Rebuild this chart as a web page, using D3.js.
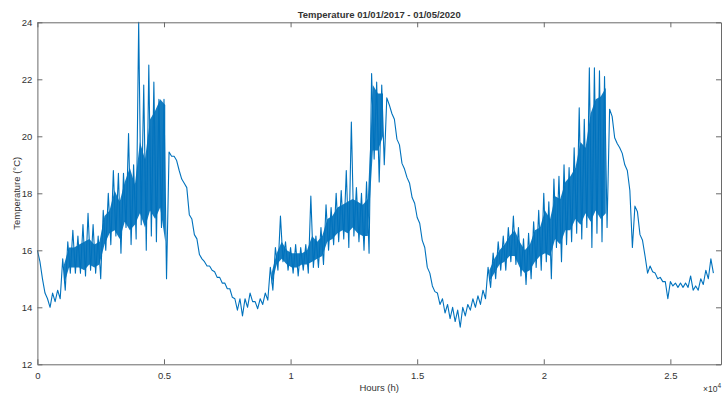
<!DOCTYPE html>
<html>
<head>
<meta charset="utf-8">
<script src="https://cdn.jsdelivr.net/npm/d3@7"></script>
<style>
  body { margin: 0; background: #fff; }
  text { font-family: "Liberation Sans", Arial, sans-serif; fill: #333; }
  .title { font-weight: bold; }
</style>
</head>
<body>
<svg id="chart" width="723" height="394"></svg>
<script>
var sampleStep = 200; // hours between samples
var tempLow = [
  15.6, 14.5, 14.0, 14.2, 14.3, 14.6, 15.2, 15.2, 15.2, 15.1,
  15.3, 15.2, 15.0, 16.0, 16.2, 16.5, 15.9, 16.8, 16.2, 16.4,
  16.9, 16.0, 16.5, 16.3, 16.8, 15.0, 19.3, 19.15, 18.5, 18.2,
  17.1, 16.4, 15.7, 15.45, 15.3, 15.05, 14.85, 14.65, 14.35, 13.9,
  13.7, 14.0, 14.2, 13.95, 14.1, 14.25, 14.6, 15.3, 15.6, 15.3,
  15.2, 15.1, 15.3, 15.2, 15.4, 15.4, 15.5, 16.0, 16.2, 16.3,
  16.4, 16.1, 16.5, 16.3, 16.0, 15.9, 19.2, 18.4, 19.0, 21.1,
  20.6, 19.7, 18.85, 18.35, 17.65, 16.95, 16.1, 15.2, 14.55, 14.1,
  13.8, 13.6, 13.5, 13.3, 13.7, 13.9, 14.0, 14.1, 14.3, 14.7,
  15.0, 15.3, 15.3, 15.6, 15.5, 15.1, 14.8, 15.0, 15.4, 15.3,
  15.6, 15.0, 16.1, 15.6, 16.2, 16.3, 16.6, 16.4, 16.8, 16.1,
  16.6, 16.3, 16.8, 20.7, 19.75, 19.4, 18.8, 16.1, 17.35, 16.35,
  15.2, 15.25, 15.0, 14.9, 14.3, 14.75, 14.7, 14.7, 14.7, 14.6,
  14.6, 14.8, 15.0, 15.2
];
var tempHigh = [
  16.0, 15.0, 14.3, 14.5, 14.6, 15.7, 16.3, 16.7, 16.5, 16.9,
  17.3, 16.9, 16.5, 17.4, 18.0, 18.8, 18.7, 18.7, 20.1, 19.0,
  24.0, 21.8, 22.5, 21.9, 21.3, 21.3, 19.45, 19.3, 18.8, 18.35,
  17.25, 16.55, 15.85, 15.6, 15.45, 15.25, 15.05, 14.85, 14.65, 14.3,
  14.3, 14.3, 14.5, 14.2, 14.3, 14.5, 15.4, 16.1, 17.2, 16.3,
  16.1, 16.2, 16.1, 16.2, 17.9, 16.5, 16.8, 17.6, 17.5, 18.0,
  18.1, 18.8, 20.5, 18.2, 18.0, 18.4, 22.2, 21.9, 21.8, 21.35,
  20.8, 19.9, 19.05, 18.55, 17.85, 17.15, 16.35, 15.4, 14.75, 14.5,
  14.3, 14.1, 14.0, 13.9, 14.0, 14.1, 14.3, 14.4, 14.6, 15.4,
  15.9, 16.3, 16.5, 16.8, 17.2, 16.8, 16.4, 16.6, 17.0, 17.4,
  18.0, 17.7, 18.5, 18.6, 19.0, 18.9, 19.6, 21.0, 20.6, 22.4,
  22.4, 22.3, 22.1, 20.95, 19.95, 19.6, 19.0, 18.1, 17.55, 16.55,
  15.8, 15.45, 15.2, 15.05, 14.9, 14.9, 14.85, 14.85, 14.85, 15.1,
  14.75, 15.0, 15.3, 15.7
];
// dense core of the noisy stretches (null where the trace is a single line)
var coreLow = [
  null, null, null, null, null, 14.8, 15.4, 15.4, 15.4, 15.3,
  15.5, 15.4, 15.5, 16.2, 16.6, 16.7, 16.4, 17.0, 16.7, 16.9,
  17.3, 16.8, 17.4, 17.1, 17.5, 16.3, null, null, null, null,
  null, null, null, null, null, null, null, null, null, null,
  null, null, null, null, null, null, 14.8, 15.5, 15.7, 15.5,
  15.4, 15.4, 15.5, 15.5, 15.6, 15.7, 15.8, 16.3, 16.4, 16.6,
  16.7, 16.6, 16.8, 16.6, 16.5, 16.5, 19.5, 19.5, 20.0, null,
  null, null, null, null, null, null, null, null, null, null,
  null, null, null, null, null, null, null, null, null, 14.9,
  15.2, 15.5, 15.6, 15.8, 15.8, 15.4, 15.2, 15.3, 15.6, 15.8,
  15.9, 15.8, 16.4, 16.2, 16.7, 16.7, 17.1, 16.9, 17.3, 17.0,
  17.4, 17.1, 17.3, null, null, null, null, null, null, null,
  null, null, null, null, null, null, null, null, null, null,
  null, null, null, null
];
var coreHigh = [
  null, null, null, null, null, 15.5, 16.1, 16.1, 16.2, 16.3,
  16.4, 16.2, 16.3, 17.2, 17.4, 18.1, 17.7, 18.4, 18.9, 18.3,
  19.8, 19.2, 20.6, 20.9, 21.3, 21.1, null, null, null, null,
  null, null, null, null, null, null, null, null, null, null,
  null, null, null, null, null, null, 15.2, 15.9, 16.3, 16.0,
  15.9, 15.9, 15.9, 16.0, 16.5, 16.3, 16.5, 17.1, 17.2, 17.5,
  17.6, 17.7, 17.8, 17.7, 17.6, 17.8, 21.8, 21.5, 21.5, null,
  null, null, null, null, null, null, null, null, null, null,
  null, null, null, null, null, null, null, null, null, 15.3,
  15.7, 16.0, 16.2, 16.5, 16.7, 16.3, 16.0, 16.2, 16.7, 16.8,
  17.4, 17.1, 17.9, 17.8, 18.4, 18.6, 18.9, 19.8, 19.6, 20.8,
  21.3, 21.4, 21.7, null, null, null, null, null, null, null,
  null, null, null, null, null, null, null, null, null, null,
  null, null, null, null
];
var xTicks = [0, 5000, 10000, 15000, 20000, 25000]
  , xTickLabels = ["0", "0.5", "1", "1.5", "2", "2.5"]
  , yTicks = [12, 14, 16, 18, 20, 22, 24];

var plotLeft = 37.4
  , plotRight = 721
  , plotTop = 22.3
  , plotBottom = 364.3
  , tickLen = 5
  , axisColor = "#6a6a6a"
  , lineColor = "#0072BD";

var svg = d3.select("#chart");

var x = d3.scaleLinear().domain([0, 27000]).range([plotLeft, plotRight]);
var y = d3.scaleLinear().domain([12, 24]).range([plotBottom, plotTop]);

// solid core where the hourly trace is too dense to see single lines
var core = d3.area()
  .defined((d, i) => coreLow[i] != null)
  .x((d, i) => x(i*sampleStep + sampleStep/4))
  .y0((d, i) => y(coreLow[i]))
  .y1((d, i) => y(coreHigh[i]));

svg.append("path")
  .datum(coreLow)
  .attr("d", core)
  .attr("fill", lineColor)
  .attr("fill-opacity", 0.92);

// zigzag between high and low of each sample, like the raw hourly trace
var points = [];
tempLow.forEach(function(lo, i){
  points.push([i*sampleStep, tempHigh[i]]);
  points.push([i*sampleStep + sampleStep/2, lo]);
});

var line = d3.line()
  .x(d => x(d[0]))
  .y(d => y(d[1]));

svg.append("path")
  .datum(points)
  .attr("d", line)
  .attr("fill", "none")
  .attr("stroke", lineColor)
  .attr("stroke-width", 1.1)
  .attr("stroke-linejoin", "round");

// box axes, ticks pointing inward on all four sides
var xBottom = d3.axisBottom(x).tickValues(xTicks).tickSizeInner(-tickLen).tickSizeOuter(0)
  .tickFormat((d, i) => xTickLabels[i]);
var xTop = d3.axisTop(x).tickValues(xTicks).tickSizeInner(-tickLen).tickSizeOuter(0).tickFormat("");
var yLeft = d3.axisLeft(y).tickValues(yTicks).tickSizeInner(-tickLen).tickSizeOuter(0);
var yRight = d3.axisRight(y).tickValues(yTicks).tickSizeInner(-tickLen).tickSizeOuter(0).tickFormat("");

function styleAxis(g){
  g.select(".domain").attr("stroke", axisColor);
  g.selectAll(".tick line").attr("stroke", axisColor);
  g.selectAll(".tick text").attr("fill", "#333").style("font-size", "9.5px")
    .style("font-family", '"Liberation Sans", Arial, sans-serif');
}

svg.append("g").attr("transform", "translate(0," + plotBottom + ")").call(xBottom).call(styleAxis)
  .selectAll(".tick text").attr("dy", "0.9em").attr("y", 6);
svg.append("g").attr("transform", "translate(0," + plotTop + ")").call(xTop).call(styleAxis);
svg.append("g").attr("transform", "translate(" + plotLeft + ",0)").call(yLeft).call(styleAxis)
  .selectAll(".tick text").attr("x", -5);
svg.append("g").attr("transform", "translate(" + plotRight + ",0)").call(yRight).call(styleAxis);

// title and labels
svg.append("text")
  .attr("class", "title")
  .attr("x", (plotLeft + plotRight)/2)
  .attr("y", 18)
  .attr("text-anchor", "middle")
  .style("font-size", "9.5px")
  .text("Temperature 01/01/2017 - 01/05/2020");

svg.append("text")
  .attr("x", (plotLeft + plotRight)/2)
  .attr("y", 391)
  .attr("text-anchor", "middle")
  .style("font-size", "9.5px")
  .text("Hours (h)");

svg.append("text")
  .attr("transform", "translate(20," + (plotTop + plotBottom)/2 + ") rotate(-90)")
  .attr("text-anchor", "middle")
  .style("font-size", "9.5px")
  .text("Temperature (°C)");

var expo = svg.append("text")
  .attr("x", plotRight)
  .attr("y", 392)
  .attr("text-anchor", "end")
  .style("font-size", "8.5px");
expo.append("tspan").text("×10");
expo.append("tspan").attr("dy", -4).style("font-size", "6.5px").text("4");
</script>
</body>
</html>
